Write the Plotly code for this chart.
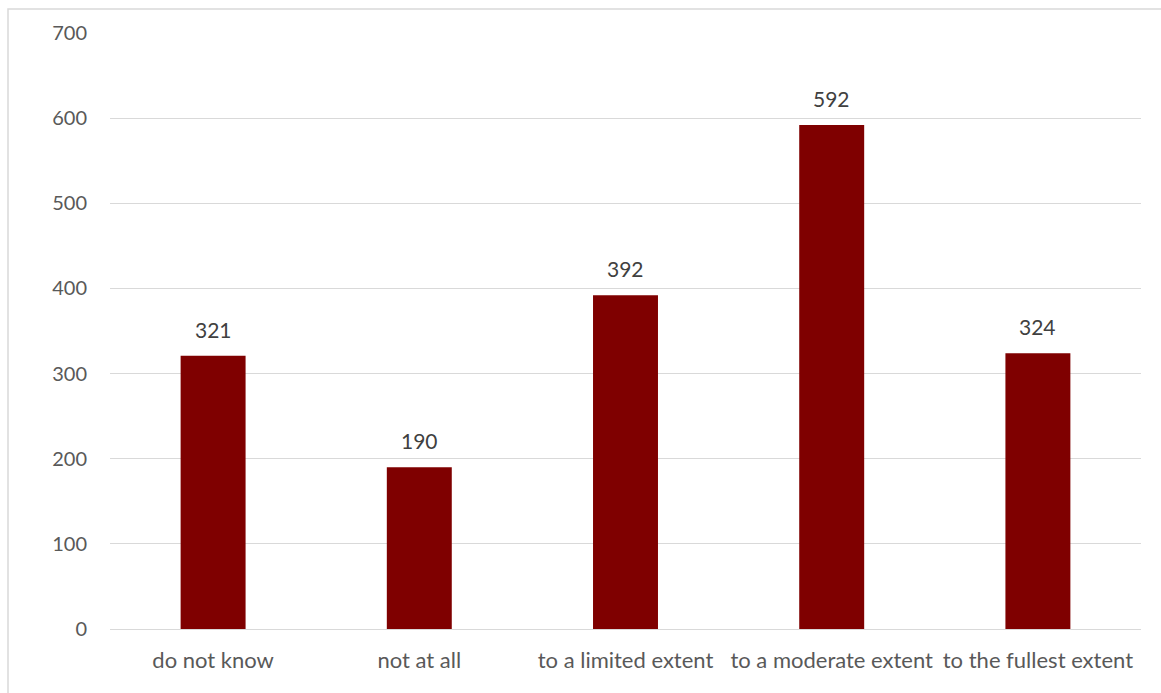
import plotly.graph_objects as go

# Survey responses per answer category
categories = ["do not know", "not at all", "to a limited extent",
              "to a moderate extent", "to the fullest extent"]
counts = [321, 190, 392, 592, 324]

bar_color = "#7f0000"
text_color = "#595959"
grid_color = "#d9d9d9"
font_family = "Lato, 'Open Sans', sans-serif"

fig = go.Figure(
    go.Bar(
        x=categories,
        y=counts,
        marker=dict(color=bar_color, line=dict(width=0)),
        width=0.315,
        cliponaxis=False,
        hoverinfo="x+y",
    )
)

# Value labels above each bar
for cat, val in zip(categories, counts):
    fig.add_annotation(
        x=cat, y=val, text=str(val),
        showarrow=False, yanchor="bottom", yshift=12,
        font=dict(family=font_family, size=21, color="#404040"),
    )

fig.update_layout(
    width=1161,
    height=693,
    margin=dict(l=110, r=20, t=33, b=64),
    paper_bgcolor="white",
    plot_bgcolor="white",
    showlegend=False,
    font=dict(family=font_family, size=20, color=text_color),
)

fig.update_yaxes(
    range=[0, 700],
    dtick=100,
    showgrid=True,
    gridcolor=grid_color,
    gridwidth=1,
    zeroline=False,
    showline=False,
    ticks="",
    ticklabelstandoff=22,
    tickfont=dict(family=font_family, size=20, color=text_color),
)

fig.update_xaxes(
    showgrid=False,
    showline=True,
    linecolor=grid_color,
    linewidth=1,
    ticks="",
    ticklabelstandoff=12,
    tickfont=dict(family=font_family, size=22, color=text_color),
)

# Outer chart frame
fig.add_shape(
    type="rect",
    xref="paper", yref="paper",
    x0=(8 - 110) / 1031, x1=(1170 - 110) / 1031,
    y0=(629 - 705) / 596, y1=(629 - 9) / 596,
    line=dict(color="#d9d9d9", width=1.5),
    fillcolor="rgba(0,0,0,0)",
    layer="below",
)

fig.write_html("out.html")
